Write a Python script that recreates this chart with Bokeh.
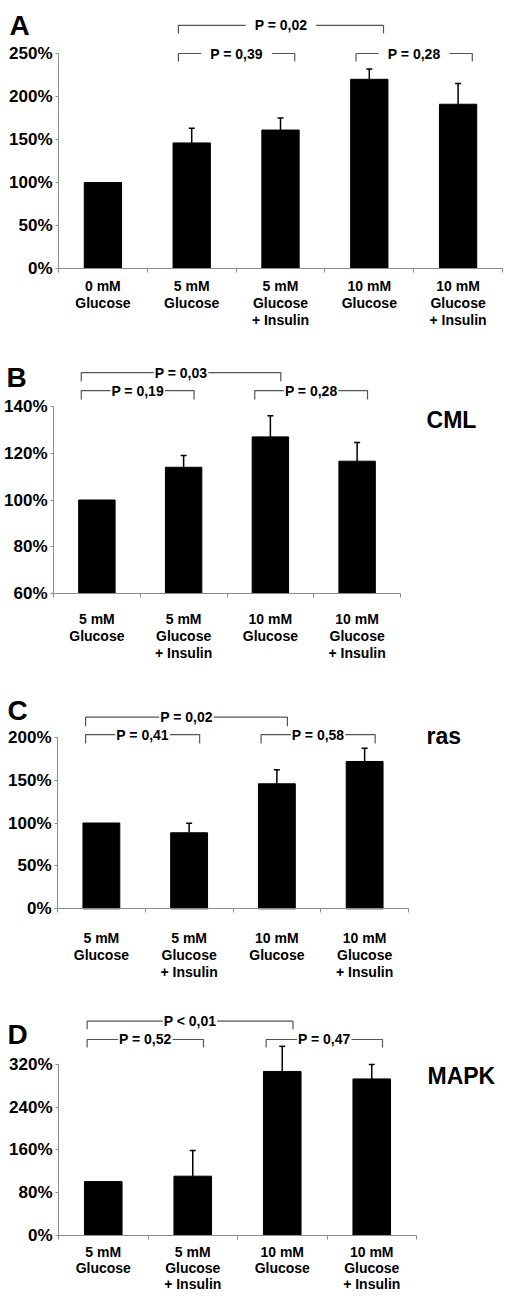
from bokeh.plotting import figure
from bokeh.models import (ColumnDataSource, FixedTicker, LinearAxis, Range1d,
                          Whisker, TeeHead, Label)
from bokeh.layouts import column
from bokeh.embed import file_html
from bokeh.resources import INLINE

FONT = "Liberation Sans"
AXIS_COLOR = "#8c8c8c"
BRACKET_COLOR = "#555555"

# ---------------- data ----------------
a_categories = ["0 mM\nGlucose", "5 mM\nGlucose", "5 mM\nGlucose\n+ Insulin",
                "10 mM\nGlucose", "10 mM\nGlucose\n+ Insulin"]
a_values = [100, 146, 161, 220, 191]
a_errors = [0, 17, 14, 12, 24]
a_yticks = [0, 50, 100, 150, 200, 250]
a_brackets = [(1, 3, "P = 0,02", 1), (1, 2, "P = 0,39", 0), (3, 4, "P = 0,28", 0)]

bcd_categories = ["5 mM\nGlucose", "5 mM\nGlucose\n+ Insulin",
                  "10 mM\nGlucose", "10 mM\nGlucose\n+ Insulin"]

b_values = [100, 114, 127, 116.6]
b_errors = [0, 5, 9, 8]
b_yticks = [60, 80, 100, 120, 140]
b_brackets = [(0, 2, "P = 0,03", 1), (0, 1, "P = 0,19", 0), (2, 3, "P = 0,28", 0)]

c_values = [100, 88.6, 145.7, 171.7]
c_errors = [0, 11.2, 16.3, 15.5]
c_yticks = [0, 50, 100, 150, 200]
c_brackets = [(0, 2, "P = 0,02", 1), (0, 1, "P = 0,41", 0), (2, 3, "P = 0,58", 0)]

d_values = [101, 111, 307, 293]
d_errors = [0, 48, 47, 27]
d_yticks = [0, 80, 160, 240, 320]
d_brackets = [(0, 2, "P < 0,01", 1), (0, 1, "P = 0,52", 0), (2, 3, "P = 0,47", 0)]


# ---------------- layout settings ----------------
# ax: pixel x of the y axis in the figure, ay: pixel y (from top) of the x axis
# ppc: pixels per category; ppu: pixels per y unit; h: figure height
W = 504
cfg_a = dict(ax=58, ay=268, h=345, ppc=88.8, y0=0, ppu=0.86,
             xs=5, lh=1.07, levels=(250, 282.6), leg=8, off=(-0.15, 0.16), pad=9,
             letter="A", letter_pos=(-0.552, 282.6), side=None, side_pos=None)
cfg_b = dict(ax=53, ay=248, h=335, ppc=86.75, y0=60, ppu=2.3375,
             xs=13, lh=1.07, levels=(146.8, 154.5), leg=9, off=(-0.18, 0.12), pad=1,
             letter="B", letter_pos=(-0.542, 152.6), side="CML", side_pos=(4.30, 134.2))
cfg_c = dict(ax=57, ay=228.3, h=310, ppc=87.75, y0=0, ppu=0.858,
             xs=17, lh=1.07, levels=(203.1, 223.3), leg=9, off=(-0.18, 0.12), pad=1,
             letter="C", letter_pos=(-0.57, 231.1), side="ras", side_pos=(4.205, 201.4))
cfg_d = dict(ax=58, ay=245, h=303, ppc=89.5, y0=0, ppu=0.5344,
             xs=4, lh=1.0, levels=(366.8, 401.0), leg=8, off=(-0.18, 0.12), pad=1,
             letter="D", letter_pos=(-0.57, 376.1), side="MAPK", side_pos=(4.123, 299.4))


def make_panel(cats, values, errors, yticks, brackets, cfg):
    n = len(cats)
    centers = [i + 0.5 for i in range(n)]
    x_start = -cfg["ax"] / cfg["ppc"]
    x_end = x_start + W / cfg["ppc"]
    y_end = cfg["y0"] + cfg["ay"] / cfg["ppu"]
    y_start = cfg["y0"] - (cfg["h"] - cfg["ay"]) / cfg["ppu"]
    p = figure(frame_width=W, frame_height=cfg["h"],
               min_border_left=0, min_border_right=0,
               min_border_top=0, min_border_bottom=0,
               x_range=Range1d(x_start, x_end), y_range=Range1d(y_start, y_end),
               x_axis_type=None, y_axis_type=None,
               output_backend="svg", toolbar_location=None)
    p.outline_line_color = None
    p.background_fill_color = "white"
    p.border_fill_color = "white"

    xa = LinearAxis(
        ticker=FixedTicker(ticks=centers, minor_ticks=list(range(n + 1))),
        bounds=(0, n), fixed_location=cfg["y0"],
        major_label_overrides={c: lab for c, lab in zip(centers, cats)},
        major_tick_out=0, major_tick_in=0, minor_tick_out=4, minor_tick_in=0,
        axis_line_color=AXIS_COLOR, minor_tick_line_color=AXIS_COLOR,
        major_label_text_font=FONT, major_label_text_font_size="14px",
        major_label_text_font_style="bold", major_label_text_color="black",
        major_label_standoff=cfg["xs"], major_label_text_line_height=cfg["lh"])
    p.add_layout(xa, "below")

    ya = LinearAxis(
        ticker=FixedTicker(ticks=yticks, minor_ticks=[]),
        bounds=(yticks[0], yticks[-1]), fixed_location=0,
        major_label_overrides={t: f"{t}%" for t in yticks},
        major_tick_out=3, major_tick_in=0, minor_tick_out=0, minor_tick_in=0,
        axis_line_color=AXIS_COLOR, major_tick_line_color=AXIS_COLOR,
        major_label_text_font=FONT, major_label_text_font_size="17px",
        major_label_text_font_style="bold", major_label_text_color="black",
        major_label_standoff=3)
    p.add_layout(ya, "left")

    p.vbar(x=centers, top=values, bottom=cfg["y0"], width=0.42,
           fill_color="black", line_color="black")

    ex = [c for c, e in zip(centers, errors) if e > 0]
    elo = [v for v, e in zip(values, errors) if e > 0]
    ehi = [v + e for v, e in zip(values, errors) if e > 0]
    esrc = ColumnDataSource(dict(x=ex, lower=elo, upper=ehi))
    w = Whisker(source=esrc, base="x", lower="lower", upper="upper", dimension="height",
                line_color="black", line_width=1.5,
                upper_head=TeeHead(size=6, line_color="black", line_width=1.5),
                lower_head=None, level="overlay")
    p.add_layout(w)

    leg = cfg["leg"] / cfg["ppu"]
    xs, ys = [], []
    for (i, j, txt, lvl) in brackets:
        xl = centers[i] + cfg["off"][0]
        xr = centers[j] + cfg["off"][1]
        yb = cfg["levels"][lvl]
        xs.append([xl, xl, xr, xr])
        ys.append([yb - leg, yb, yb, yb - leg])
    p.multi_line(xs=xs, ys=ys, line_color=BRACKET_COLOR, line_width=1.2)
    for (i, j, txt, lvl), bx in zip(brackets, xs):
        p.add_layout(Label(x=(bx[0] + bx[2]) / 2, y=cfg["levels"][lvl], text=txt,
                           text_align="center", text_baseline="middle",
                           text_font=FONT, text_font_size="14px", text_font_style="bold",
                           text_color="black", background_fill_color="white",
                           padding=cfg["pad"]))

    lx, lyy = cfg["letter_pos"]
    p.add_layout(Label(x=lx, y=lyy, text=cfg["letter"], text_align="left",
                       text_baseline="middle", text_font=FONT, text_font_size="28px",
                       text_font_style="bold", text_color="black"))
    if cfg["side"]:
        sx, sy = cfg["side_pos"]
        p.add_layout(Label(x=sx, y=sy, text=cfg["side"], text_align="left",
                           text_baseline="middle", text_font=FONT,
                           text_font_size="23px", text_font_style="bold",
                           text_color="black"))
    return p


pa = make_panel(a_categories, a_values, a_errors, a_yticks, a_brackets, cfg_a)
pb = make_panel(bcd_categories, b_values, b_errors, b_yticks, b_brackets, cfg_b)
pc = make_panel(bcd_categories, c_values, c_errors, c_yticks, c_brackets, cfg_c)
pd = make_panel(bcd_categories, d_values, d_errors, d_yticks, d_brackets, cfg_d)

layout = column(pa, pb, pc, pd, spacing=0)
open("out.html", "w").write(file_html(layout, INLINE))
